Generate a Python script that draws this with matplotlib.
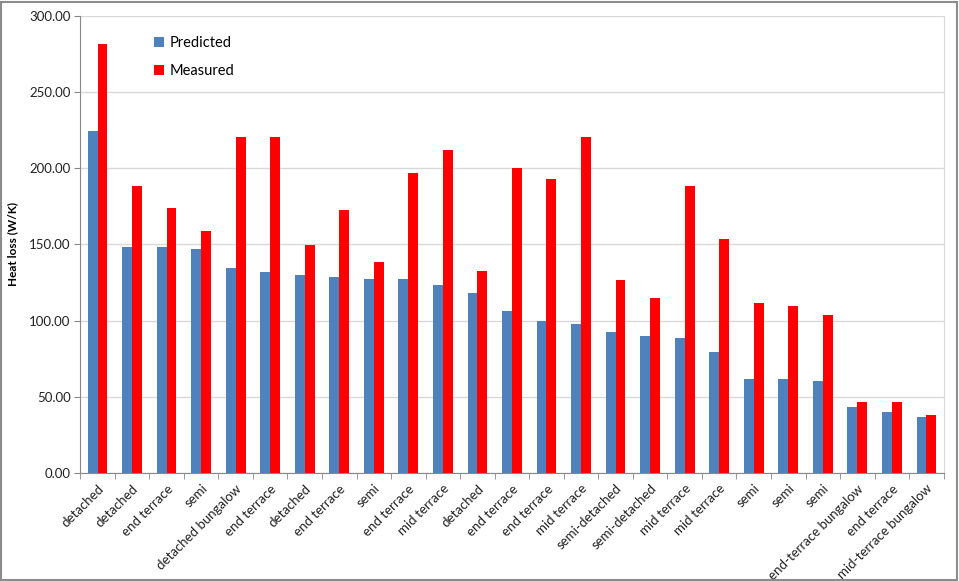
import matplotlib
matplotlib.use("Agg")
import matplotlib.pyplot as plt
import numpy as np
from matplotlib.patches import Rectangle

categories = ["detached", "detached", "end terrace", "semi", "detached bungalow",
              "end terrace", "detached", "end terrace", "semi", "end terrace",
              "mid terrace", "detached", "end terrace", "end terrace", "mid terrace",
              "semi-detached", "semi-detached", "mid terrace", "mid terrace", "semi",
              "semi", "semi", "end-terrace bungalow", "end terrace", "mid-terrace bungalow"]
predicted = [224.8, 148.6, 148.2, 147.0, 134.8, 131.9, 129.7, 128.4, 127.5, 127.1,
             123.4, 118.3, 106.1, 99.9, 97.7, 92.7, 90.1, 88.3, 79.6, 61.8,
             61.4, 60.3, 43.4, 39.7, 36.4]
measured = [282.0, 188.7, 173.8, 158.9, 220.7, 220.7, 149.5, 172.7, 138.5, 196.8,
            211.9, 132.8, 200.1, 193.3, 220.7, 126.7, 115.0, 188.3, 153.4, 111.5,
            109.8, 103.7, 46.3, 46.7, 37.9]
yticks = [0, 50, 100, 150, 200, 250, 300]

plt.rcParams['font.family'] = ['Lato', 'DejaVu Sans']

fig = plt.figure(figsize=(9.59, 5.81), dpi=100)
ax = fig.add_axes([0.0837, 0.1864, 0.9003, 0.7856])

n = len(categories)
x = np.arange(n)
w = 0.2857
ax.bar(x - w/2, predicted, w, color='#4F81BD', label='Predicted', zorder=3)
ax.bar(x + w/2, measured, w, color='#FF0000', label='Measured', zorder=3)

ax.set_xlim(-0.5, n - 0.5)
ax.set_ylim(0, 300)
ax.set_yticks(yticks)
ax.set_yticklabels([f"{v:.2f}" for v in yticks], fontsize=9.5, color='#222222')
ax.yaxis.grid(True, color='#D9D9D9', linewidth=1, zorder=0)
ax.tick_params(axis='y', length=4, color='#888888', direction='out', pad=3)

ax.set_xticks(x)
ax.set_xticklabels(categories, rotation=45, ha='right', rotation_mode='anchor',
                   fontsize=9.5, color='#222222')
ax.tick_params(axis='x', which='major', length=0, pad=7)
ax.set_xticks(np.arange(-0.5, n, 1), minor=True)
ax.tick_params(axis='x', which='minor', length=4, color='#888888', direction='out')

for s in ['left', 'bottom']:
    ax.spines[s].set_color('#888888')
ax.spines['right'].set_color('#D9D9D9')
ax.spines['top'].set_visible(False)

ax.set_ylabel("Heat loss (W/K)", fontsize=8.5, fontweight='bold', labelpad=8)

leg = ax.legend(loc='upper left', bbox_to_anchor=(0.07, 0.985), frameon=False,
                fontsize=10.5, handlelength=0.7, handleheight=0.7, handletextpad=0.4,
                labelspacing=0.95)

fig.patches.append(Rectangle((0.001, 0.002), 0.997, 0.995, transform=fig.transFigure,
                             fill=False, edgecolor='#8C8C8C', linewidth=1.5))

fig.savefig("out.png", dpi=100)
